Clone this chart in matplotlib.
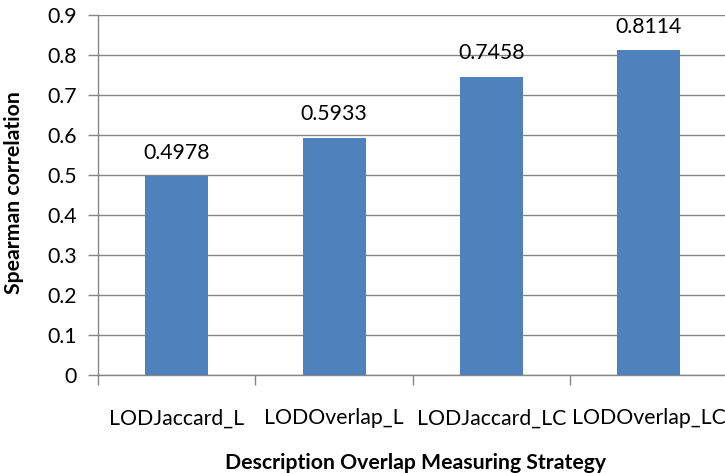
import matplotlib
matplotlib.use("Agg")
import matplotlib.pyplot as plt

categories = ["LODJaccard_L", "LODOverlap_L", "LODJaccard_LC", "LODOverlap_LC"]
values = [0.4978, 0.5933, 0.7458, 0.8114]
value_labels = ["0.4978", "0.5933", "0.7458", "0.8114"]
yticks = [0, 0.1, 0.2, 0.3, 0.4, 0.5, 0.6, 0.7, 0.8, 0.9]
ytick_labels = ["0", "0.1", "0.2", "0.3", "0.4", "0.5", "0.6", "0.7", "0.8", "0.9"]

plt.rcParams["font.family"] = ["Lato", "DejaVu Sans"]

W, H = 725, 473
fig = plt.figure(figsize=(W / 100, H / 100), dpi=100)
left, right, top, bottom = 98, 727.5, 15, 375
ax = fig.add_axes([left / W, 1 - bottom / H, (right - left) / W, (bottom - top) / H])

fs = 15.3
grid_c = "#868686"
x = list(range(len(categories)))
ax.bar(x, values, width=0.4, color="#4F81BD", zorder=3)
for xi, v, lab in zip(x, values, value_labels):
    ax.text(xi, v + 0.058, lab, ha="center", va="center", fontsize=fs, color="black")

ax.set_xlim(-0.5, len(categories) - 0.5)
ax.set_ylim(0, 0.9)
ax.set_yticks(yticks)
ax.set_yticklabels(ytick_labels, fontsize=fs)
ax.yaxis.grid(True, color=grid_c, linewidth=1, zorder=0)
ax.set_axisbelow(True)

ax.set_xticks([i - 0.5 for i in range(len(categories) + 1)])
ax.set_xticklabels([])
ax.set_xticks(x, minor=True)
ax.set_xticklabels(categories, minor=True, fontsize=fs)
ax.tick_params(axis="x", which="minor", length=0, pad=24)
ax.tick_params(axis="x", which="major", length=7, color=grid_c, width=1)
ax.tick_params(axis="y", length=7, color=grid_c, width=1, pad=8)

for s in ["top", "right"]:
    ax.spines[s].set_visible(False)
for s in ["left", "bottom"]:
    ax.spines[s].set_color(grid_c)
    ax.spines[s].set_linewidth(1)

fig.text(416 / W, 1 - 463 / H, "Description Overlap Measuring Strategy",
         ha="center", va="center", fontsize=fs, fontweight="bold")
fig.text(14 / W, 1 - 193 / H, "Spearman correlation", rotation=90,
         ha="center", va="center", fontsize=fs, fontweight="bold")

fig.savefig("out.png", dpi=100)
